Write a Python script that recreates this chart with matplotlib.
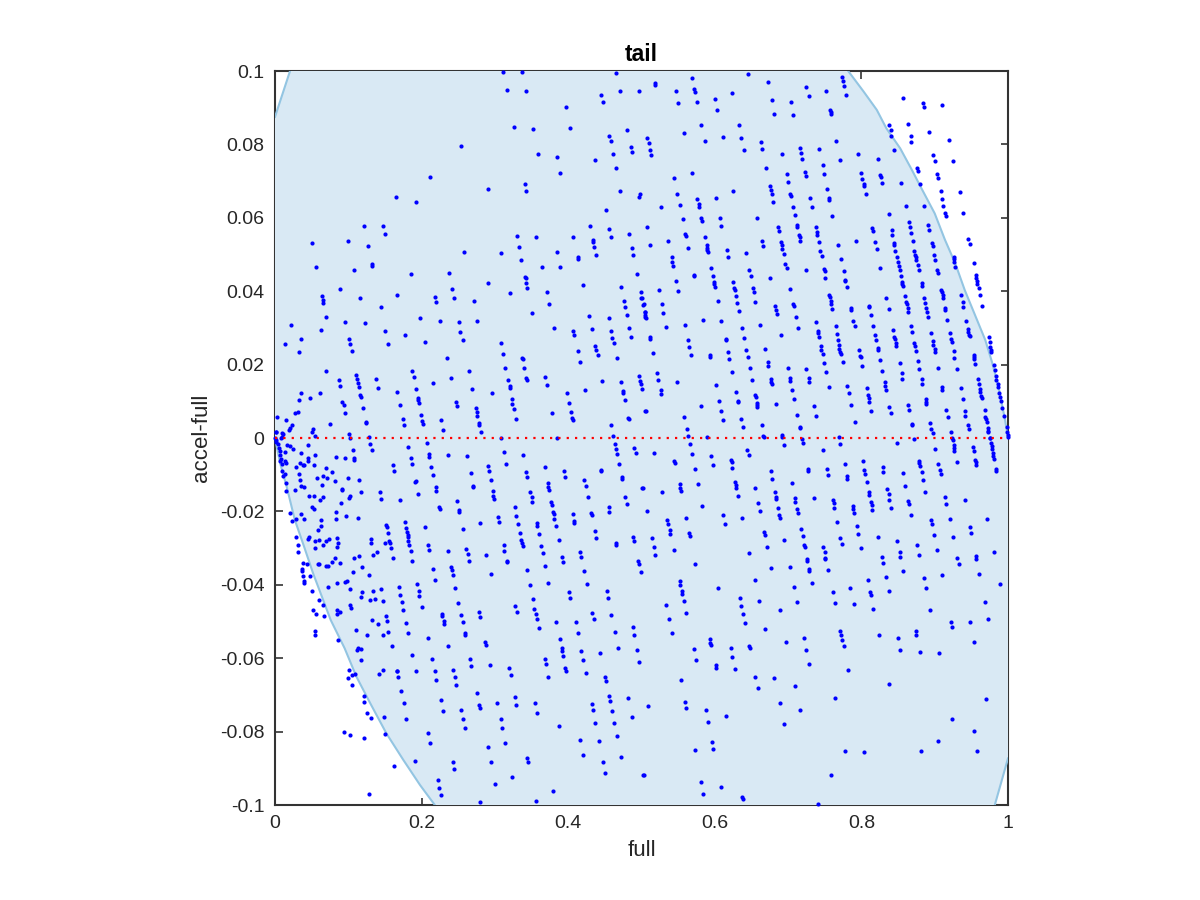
# scatter of full against accel-full, with the shaded region behind it
import numpy as np
import matplotlib
matplotlib.use('Agg')
import matplotlib.pyplot as plt

plt.rcParams['font.family'] = ['Liberation Sans', 'DejaVu Sans']

# points, (full, accel-full), one list per quadrant
upper_left = [
(.311,.0998),(.337,.0997),(.465,.0995),(.316,.0949),(.342,.0945),(.470,.0946),(.496,.0946),(.445,.0935),(.447,.0916),(.397,.0902),
(.326,.0847),(.352,.0843),(.403,.0846),(.480,.0839),(.456,.0824),(.458,.0808),(.485,.0793),(.487,.0778),(.254,.0796),(.359,.0775),
(.385,.0765),(.461,.0773),(.437,.0758),(.465,.0737),(.389,.0722),(.211,.0712),(.341,.0693),(.343,.0674),(.291,.0678),(.471,.0674),
(.498,.0665),(.497,.0657),(.165,.0656),(.192,.0642),(.451,.0621),(.430,.0579),(.456,.0570),(.122,.0577),(.147,.0579),(.150,.0555),
(.483,.0557),(.330,.0550),(.356,.0547),(.407,.0548),(.459,.0548),(.050,.0531),(.100,.0537),(.127,.0523),(.434,.0540),(.434,.0535),
(.435,.0521),(.333,.0521),(.258,.0506),(.309,.0504),(.385,.0508),(.336,.0486),(.487,.0518),(.489,.0500),(.438,.0498),(.413,.0492),
(.413,.0488),(.132,.0475),(.132,.0470),(.056,.0466),(.108,.0457),(.186,.0448),(.238,.0449),(.364,.0466),(.389,.0467),(.494,.0448),
(.341,.0440),(.342,.0435),(.343,.0423),(.291,.0422),(.420,.0417),(.472,.0411),(.344,.0409),(.088,.0406),(.242,.0405),(.371,.0398),
(.499,.0398),(.320,.0395),(.166,.0390),(.064,.0388),(.218,.0383),(.116,.0381),(.244,.0382),(.065,.0375),(.066,.0368),(.220,.0371),
(.271,.0373),(.501,.0381),(.502,.0363),(.374,.0365),(.476,.0373),(.477,.0356),(.144,.0358),(.480,.0335),(.505,.0344),(.505,.0330),
(.351,.0341),(.429,.0333),(.070,.0330),(.198,.0326),(.455,.0327),(.096,.0316),(.225,.0318),(.251,.0315),(.276,.0320),(.022,.0307),
(.123,.0312),(.063,.0294),(.150,.0292),(.253,.0289),(.381,.0300),(.407,.0292),(.433,.0296),(.459,.0291),(.483,.0301),(.408,.0281),
(.177,.0280),(.486,.0275),(.460,.0272),(.035,.0270),(.101,.0269),(.256,.0267),(.462,.0260),(.014,.0257),(.102,.0257),(.154,.0257),
(.205,.0262),(.308,.0259),(.437,.0250),(.438,.0240),(.413,.0237),(.033,.0233),(.105,.0237),(.311,.0228),(.440,.0226),(.235,.0217),
(.337,.0219),(.338,.0215),(.466,.0217),(.416,.0206),(.314,.0192),(.340,.0192),(.070,.0183),(.187,.0183),(.264,.0182),(.111,.0172),
(.497,.0168),(.189,.0165),(.240,.0164),(.369,.0165),(.343,.0164),(.112,.0161),(.138,.0161),(.344,.0158),(.087,.0157),(.318,.0158),
(.498,.0155),(.446,.0154),(.472,.0153),(.216,.0149),(.113,.0149),(.499,.0147),(.371,.0145),(.088,.0143),(.320,.0143),(.114,.0139),
(.140,.0136),(.320,.0136),(.192,.0134),(.269,.0133),(.500,.0134),(.423,.0130),(.475,.0129),(.035,.0123),(.061,.0123),(.167,.0124),
(.296,.0123),(.399,.0123),(.475,.0122),(.116,.0117),(.117,.0112),(.048,.0110),(.195,.0109),(.323,.0107),(.477,.0104),(.033,.0103),
(.195,.0104),(.196,.0095),(.092,.0099),(.247,.0097),(.324,.0094),(.401,.0095),(.094,.0090),(.171,.0090),(.248,.0087),(.120,.0083),
(.274,.0082),(.326,.0078),(.096,.0067),(.032,.0070),(.027,.0067),(.275,.0070),(.276,.0061),(.199,.0064),(.378,.0068),(.404,.0071),
(.505,.0074),(.003,.0057),(.174,.0053),(.226,.0050),(.329,.0052),(.405,.0054),(.406,.0049),(.015,.0049),(.482,.0055),(.483,.0052),
(.124,.0044),(.124,.0042),(.201,.0046),(.278,.0042),(.278,.0036),(.075,.0038),(.202,.0038),(.176,.0035),(.023,.0035),(.021,.0028),
(.459,.0035),(.019,.0021),(.052,.0024),(.051,.0017),(.229,.0021),(.281,.0017),(.001,.0016),(.101,.0011),(.054,.0006),(.461,.0006),
(.128,.0003),(.103,.0000),(.308,.0000),(.385,.0000),
]

upper_right = [
(.569,.0981),(.645,.0993),(.519,.0966),(.519,.0963),(.672,.0971),(.774,.0985),(.775,.0974),(.776,.0960),(.779,.0935),(.547,.0945),
(.572,.0950),(.573,.0944),(.624,.0939),(.725,.0957),(.728,.0931),(.752,.0945),(.600,.0924),(.678,.0920),(.704,.0916),(.550,.0912),
(.576,.0915),(.857,.0926),(.884,.0914),(.885,.0903),(.910,.0907),(.603,.0893),(.757,.0895),(.758,.0889),(.758,.0883),(.681,.0882),
(.707,.0879),(.581,.0853),(.633,.0854),(.838,.0853),(.864,.0855),(.840,.0840),(.558,.0832),(.841,.0824),(.867,.0824),(.892,.0834),
(.508,.0818),(.611,.0819),(.636,.0818),(.586,.0810),(.868,.0807),(.920,.0811),(.510,.0803),(.766,.0810),(.663,.0807),(.665,.0787),
(.640,.0784),(.512,.0784),(.716,.0790),(.742,.0788),(.845,.0786),(.513,.0771),(.692,.0774),(.718,.0776),(.795,.0775),(.898,.0771),
(.719,.0761),(.771,.0757),(.822,.0761),(.900,.0755),(.925,.0755),(.747,.0744),(.670,.0736),(.876,.0736),(.877,.0727),(.569,.0723),
(.698,.0719),(.723,.0724),(.724,.0714),(.749,.0719),(.800,.0722),(.826,.0717),(.827,.0712),(.903,.0720),(.904,.0708),(.545,.0708),
(.801,.0706),(.700,.0698),(.828,.0695),(.854,.0696),(.803,.0693),(.880,.0693),(.803,.0686),(.675,.0688),(.676,.0676),(.753,.0679),
(.625,.0673),(.678,.0664),(.549,.0666),(.908,.0673),(.934,.0669),(.806,.0664),(.703,.0665),(.704,.0660),(.576,.0650),(.602,.0654),
(.730,.0653),(.756,.0654),(.756,.0648),(.910,.0650),(.680,.0643),(.578,.0638),(.552,.0636),(.578,.0630),(.527,.0630),(.707,.0630),
(.732,.0629),(.912,.0633),(.861,.0632),(.886,.0632),(.914,.0614),(.837,.0611),(.939,.0614),(.709,.0607),(.915,.0604),(.607,.0599),
(.658,.0599),(.760,.0605),(.556,.0597),(.581,.0599),(.582,.0590),(.865,.0589),(.712,.0580),(.712,.0576),(.507,.0576),(.686,.0576),
(.609,.0579),(.866,.0576),(.891,.0581),(.738,.0574),(.815,.0572),(.816,.0564),(.688,.0564),(.842,.0566),(.892,.0568),(.867,.0559),
(.842,.0553),(.560,.0557),(.739,.0562),(.740,.0554),(.561,.0551),(.587,.0547),(.715,.0553),(.716,.0547),(.946,.0542),(.716,.0537),
(.536,.0536),(.742,.0535),(.793,.0538),(.870,.0538),(.819,.0535),(.845,.0531),(.664,.0537),(.690,.0534),(.948,.0529),(.512,.0526),
(.768,.0527),(.589,.0526),(.845,.0525),(.896,.0531),(.666,.0523),(.897,.0524),(.691,.0526),(.589,.0519),(.564,.0518),(.821,.0515),
(.692,.0514),(.590,.0512),(.616,.0511),(.846,.0510),(.744,.0509),(.872,.0510),(.591,.0506),(.642,.0504),(.694,.0502),(.899,.0500),
(.873,.0498),(.746,.0496),(.926,.0494),(.541,.0492),(.849,.0494),(.618,.0492),(.772,.0489),(.874,.0492),(.926,.0488),(.541,.0480),
(.850,.0480),(.901,.0485),(.875,.0485),(.927,.0479),(.953,.0476),(.543,.0469),(.696,.0473),(.851,.0469),(.877,.0471),(.928,.0467),
(.595,.0462),(.698,.0463),(.724,.0459),(.749,.0461),(.826,.0464),(.647,.0457),(.852,.0458),(.878,.0457),(.903,.0458),(.776,.0456),
(.750,.0454),(.904,.0449),(.571,.0445),(.572,.0441),(.597,.0441),(.649,.0441),(.854,.0442),(.957,.0443),(.751,.0436),(.675,.0435),
(.957,.0435),(.778,.0431),(.778,.0429),(.599,.0426),(.856,.0426),(.547,.0427),(.625,.0425),(.958,.0427),(.882,.0422),(.599,.0420),
(.856,.0420),(.958,.0420),(.600,.0412),(.857,.0414),(.882,.0414),(.626,.0410),(.652,.0409),(.780,.0411),(.960,.0410),(.627,.0403),
(.524,.0403),(.550,.0400),(.703,.0406),(.909,.0403),(.653,.0397),(.910,.0397),(.962,.0391),(.936,.0390),(.911,.0390),(.756,.0391),
(.629,.0387),(.859,.0387),(.886,.0382),(.911,.0381),(.499,.0381),(.757,.0383),(.834,.0381),(.604,.0374),(.758,.0374),(.630,.0369),
(.655,.0370),(.861,.0371),(.862,.0366),(.938,.0370),(.887,.0368),(.528,.0365),(.707,.0365),(.708,.0360),(.759,.0365),(.682,.0361),
(.811,.0361),(.811,.0356),(.938,.0357),(.965,.0360),(.786,.0355),(.786,.0350),(.838,.0351),(.863,.0353),(.888,.0353),(.503,.0364),
(.505,.0344),(.684,.0348),(.685,.0339),(.760,.0351),(.889,.0342),(.914,.0353),(.914,.0349),(.633,.0345),(.863,.0344),(.530,.0341),
(.813,.0335),(.505,.0335),(.891,.0331),(.711,.0330),(.506,.0326),(.584,.0322),(.609,.0320),(.789,.0318),(.917,.0321),(.943,.0318),
(.738,.0316),(.559,.0308),(.534,.0303),(.662,.0308),(.765,.0306),(.791,.0306),(.816,.0304),(.867,.0306),(.637,.0301),(.714,.0301),
(.945,.0298),(.843,.0295),(.741,.0291),(.869,.0289),(.741,.0285),(.946,.0289),(.690,.0281),(.767,.0283),(.895,.0286),(.921,.0285),
(.947,.0282),(.819,.0280),(.948,.0277),(.742,.0274),(.845,.0276),(.511,.0274),(.512,.0271),(.640,.0273),(.615,.0271),(.615,.0267),
(.846,.0269),(.563,.0268),(.768,.0267),(.974,.0275),(.820,.0268),(.897,.0265),(.922,.0269),(.923,.0262),(.872,.0260),(.975,.0261),
(.770,.0253),(.847,.0258),(.873,.0252),(.847,.0250),(.898,.0253),(.565,.0248),(.745,.0251),(.976,.0247),(.797,.0241),(.770,.0243),
(.643,.0241),(.668,.0243),(.822,.0245),(.823,.0239),(.745,.0239),(.618,.0234),(.926,.0237),(.900,.0242),(.900,.0233),(.977,.0240),
(.977,.0233),(.771,.0235),(.874,.0238),(.516,.0231),(.772,.0229),(.747,.0228),(.593,.0227),(.594,.0222),(.568,.0225),(.645,.0222),
(.798,.0224),(.799,.0220),(.953,.0226),(.954,.0220),(.927,.0218),(.620,.0214),(.826,.0212),(.877,.0210),(.954,.0215),(.672,.0206),
(.749,.0205),(.775,.0207),(.852,.0205),(.955,.0201),(.981,.0199),(.673,.0195),(.801,.0195),(.648,.0192),(.700,.0192),(.879,.0188),
(.905,.0190),(.931,.0189),(.725,.0187),(.982,.0185),(.828,.0183),(.623,.0181),(.521,.0177),(.752,.0180),(.855,.0178),(.983,.0169),
(.728,.0164),(.651,.0158),(.523,.0158),(.702,.0163),(.677,.0160),(.856,.0161),(.959,.0162),(.984,.0158),(.882,.0160),(.677,.0153),
(.703,.0154),(.832,.0153),(.549,.0153),(.729,.0152),(.883,.0148),(.960,.0147),(.678,.0147),(.986,.0147),(.601,.0144),(.781,.0143),
(.832,.0142),(.987,.0139),(.756,.0140),(.807,.0137),(.910,.0138),(.910,.0131),(.936,.0136),(.705,.0132),(.526,.0131),(.833,.0130),
(.962,.0133),(.629,.0126),(.527,.0121),(.783,.0122),(.988,.0122),(.962,.0124),(.963,.0115),(.989,.0113),(.655,.0116),(.809,.0116),
(.656,.0111),(.810,.0109),(.708,.0107),(.939,.0106),(.888,.0105),(.964,.0109),(.606,.0100),(.631,.0102),(.632,.0098),(.888,.0097),
(.811,.0098),(.657,.0096),(.990,.0102),(.683,.0094),(.888,.0093),(.658,.0089),(.581,.0087),(.786,.0089),(.863,.0091),(.735,.0087),
(.838,.0084),(.658,.0084),(.992,.0082),(.968,.0076),(.506,.0073),(.609,.0074),(.813,.0074),(.865,.0076),(.916,.0076),(.942,.0073),
(.840,.0069),(.712,.0064),(.738,.0061),(.558,.0057),(.942,.0061),(.918,.0058),(.969,.0058),(.994,.0060),(.611,.0050),(.636,.0051),
(.970,.0051),(.791,.0044),(.971,.0043),(.664,.0035),(.869,.0038),(.869,.0035),(.894,.0041),(.946,.0036),(.716,.0031),(.716,.0028),
(.998,.0030),(.639,.0031),(.562,.0025),(.895,.0025),(.947,.0025),(.973,.0028),(.973,.0020),(.897,.0014),(.922,.0015),(.973,.0015),
(.564,.0005),(.590,.0003),(.666,.0006),(.667,.0002),(.692,.0009),(.692,.0003),(.770,.0002),(.719,-.0002),(.872,-.0002),(.924,-.0001),
(.975,.0000),(.999,.0015),(1.0,.0009),(1.0,.0002),
]

origin_cluster = [
(.000,-.0001),(.001,-.0005),(.002,-.0010),(.004,-.0016),(.005,-.0028),(.007,-.0035),(.007,-.0046),(.008,-.0058),(.007,-.0064),(.009,-.0072),
(.013,-.0064),(.015,-.0068),(.009,-.0090),(.011,-.0104),(.013,-.0099),(.015,-.0123),(.015,-.0145),(.001,.0016),(.009,.0013),(.011,.0011),
(.010,.0002),(.008,-.0001),(.017,-.0020),(.021,-.0022),(.024,-.0031),(.014,-.0038),
]

lower_left = [
(.036,-.0042),(.045,-.0018),(.054,-.0047),(.045,-.0055),(.045,-.0063),(.034,-.0067),(.038,-.0073),(.040,-.0073),(.053,-.0074),(.028,-.0079),
(.033,-.0099),(.034,-.0114),(.036,-.0132),(.040,-.0133),(.027,-.0141),(.083,-.0052),(.095,-.0054),(.106,-.0033),(.108,-.0054),(.108,-.0060),
(.130,-.0017),(.132,-.0034),(.069,-.0082),(.078,-.0094),(.065,-.0104),(.071,-.0109),(.057,-.0109),(.082,-.0118),(.064,-.0128),(.100,-.0109),
(.115,-.0115),(.092,-.0138),(.091,-.0142),(.118,-.0146),(.046,-.0158),(.053,-.0157),(.066,-.0161),(.061,-.0168),(.102,-.0159),(.101,-.0163),
(.090,-.0177),(.051,-.0187),(.053,-.0194),(.083,-.0201),(.020,-.0204),(.035,-.0207),(.097,-.0213),(.113,-.0217),(.083,-.0220),(.040,-.0222),
(.063,-.0224),(.028,-.0222),(.023,-.0227),(.063,-.0239),(.058,-.0251),(.028,-.0271),(.045,-.0274),(.047,-.0271),(.085,-.0273),(.060,-.0277),
(.054,-.0282),(.070,-.0280),(.074,-.0276),(.086,-.0287),(.066,-.0291),(.085,-.0297),(.031,-.0292),(.055,-.0301),(.031,-.0311),(.108,-.0326),
(.114,-.0322),(.082,-.0328),(.078,-.0337),(.088,-.0340),(.038,-.0341),(.043,-.0342),(.058,-.0344),(.060,-.0344),(.069,-.0348),(.072,-.0349),
(.119,-.0351),(.037,-.0358),(.037,-.0363),(.106,-.0364),(.038,-.0376),(.048,-.0375),(.128,-.0373),(.039,-.0390),(.040,-.0396),(.096,-.0392),
(.098,-.0391),(.084,-.0396),(.072,-.0406),(.103,-.0411),(.051,-.0418),(.119,-.0419),(.134,-.0416),(.144,-.0411),(.117,-.0433),(.060,-.0442),
(.129,-.0442),(.136,-.0440),(.147,-.0444),(.066,-.0454),(.102,-.0454),(.104,-.0463),(.052,-.0469),(.084,-.0469),(.089,-.0475),(.084,-.0480),
(.056,-.0479),(.067,-.0484),(.151,-.0484),(.132,-.0497),(.153,-.0498),(.141,-.0508),(.054,-.0525),(.111,-.0523),(.154,-.0528),(.054,-.0538),
(.126,-.0537),(.147,-.0537),(.086,-.0550),(.160,-.0566),(.113,-.0572),(.118,-.0575),(.112,-.0578),(.118,-.0604),(.101,-.0632),(.147,-.0633),
(.166,-.0635),(.167,-.0636),(.109,-.0643),(.105,-.0646),(.142,-.0643),(.100,-.0654),(.168,-.0652),(.105,-.0672),(.172,-.0689),(.122,-.0702),
(.121,-.0720),(.176,-.0723),(.126,-.0749),(.131,-.0764),(.149,-.0760),(.179,-.0765),(.094,-.0800),(.103,-.0810),(.150,-.0807),(.122,-.0818),
(.191,-.0879),(.163,-.0894),(.128,-.0971),(.182,-.0024),(.207,-.0014),(.210,-.0044),(.210,-.0051),(.185,-.0055),(.187,-.0070),(.236,-.0045),
(.262,-.0049),(.161,-.0073),(.163,-.0089),(.213,-.0078),(.216,-.0101),(.192,-.0116),(.191,-.0119),(.195,-.0153),(.219,-.0134),(.220,-.0144),
(.143,-.0147),(.145,-.0166),(.171,-.0170),(.267,-.0096),(.270,-.0132),(.270,-.0134),(.248,-.0173),(.224,-.0187),(.225,-.0194),(.251,-.0197),
(.251,-.0202),(.290,-.0075),(.292,-.0090),(.294,-.0115),(.312,-.0039),(.315,-.0072),(.339,-.0047),(.297,-.0145),(.298,-.0158),(.299,-.0166),
(.343,-.0094),(.344,-.0107),(.368,-.0078),(.394,-.0090),(.396,-.0106),(.372,-.0123),(.373,-.0133),(.374,-.0143),(.348,-.0148),(.350,-.0160),
(.351,-.0175),(.327,-.0188),(.377,-.0175),(.378,-.0183),(.379,-.0201),(.380,-.0207),(.329,-.0212),(.304,-.0216),(.305,-.0228),(.280,-.0231),
(.331,-.0233),(.357,-.0232),(.357,-.0239),(.381,-.0221),(.384,-.0240),(.256,-.0248),(.204,-.0242),(.152,-.0237),(.153,-.0242),(.154,-.0258),
(.177,-.0229),(.179,-.0246),(.180,-.0255),(.181,-.0264),(.181,-.0271),(.182,-.0282),(.183,-.0291),(.131,-.0275),(.131,-.0286),(.156,-.0280),
(.157,-.0287),(.150,-.0287),(.158,-.0300),(.185,-.0308),(.209,-.0291),(.210,-.0305),(.134,-.0318),(.139,-.0311),(.161,-.0327),(.187,-.0335),
(.334,-.0259),(.360,-.0262),(.336,-.0278),(.337,-.0285),(.338,-.0294),(.312,-.0291),(.313,-.0307),(.363,-.0294),(.365,-.0313),(.387,-.0277),
(.261,-.0302),(.236,-.0307),(.263,-.0317),(.288,-.0319),(.265,-.0335),(.316,-.0334),(.316,-.0337),(.369,-.0349),(.392,-.0323),(.393,-.0339),
(.416,-.0311),(.417,-.0323),(.240,-.0351),(.242,-.0360),(.216,-.0358),(.243,-.0373),(.344,-.0361),(.294,-.0370),(.422,-.0363),(.218,-.0388),
(.348,-.0401),(.373,-.0395),(.425,-.0397),(.169,-.0406),(.194,-.0399),(.196,-.0418),(.246,-.0408),(.171,-.0428),(.197,-.0430),(.401,-.0419),
(.403,-.0436),(.352,-.0440),(.173,-.0447),(.250,-.0449),(.200,-.0460),(.328,-.0458),(.354,-.0465),(.175,-.0469),(.330,-.0473),(.228,-.0479),
(.228,-.0485),(.254,-.0482),(.278,-.0475),(.280,-.0487),(.356,-.0479),(.358,-.0492),(.230,-.0498),(.231,-.0507),(.256,-.0502),(.179,-.0504),
(.182,-.0530),(.259,-.0532),(.259,-.0538),(.360,-.0517),(.384,-.0501),(.410,-.0500),(.413,-.0532),(.209,-.0544),(.389,-.0548),(.287,-.0557),
(.288,-.0565),(.236,-.0566),(.391,-.0572),(.392,-.0581),(.418,-.0581),(.393,-.0593),(.187,-.0590),(.214,-.0603),(.266,-.0603),(.369,-.0601),
(.370,-.0616),(.420,-.0605),(.268,-.0622),(.293,-.0618),(.319,-.0626),(.322,-.0645),(.396,-.0627),(.397,-.0636),(.424,-.0640),(.373,-.0652),
(.192,-.0636),(.218,-.0635),(.243,-.0631),(.245,-.0651),(.220,-.0660),(.247,-.0672),(.450,-.0650),(.452,-.0663),(.275,-.0696),(.327,-.0705),
(.455,-.0704),(.457,-.0716),(.226,-.0715),(.278,-.0728),(.279,-.0735),(.303,-.0722),(.329,-.0727),(.355,-.0721),(.432,-.0724),(.434,-.0741),
(.229,-.0744),(.254,-.0740),(.357,-.0750),(.460,-.0744),(.257,-.0766),(.308,-.0767),(.437,-.0777),(.463,-.0776),(.259,-.0791),(.310,-.0790),
(.387,-.0786),(.209,-.0804),(.466,-.0811),(.212,-.0830),(.314,-.0830),(.416,-.0824),(.442,-.0826),(.290,-.0843),(.420,-.0865),(.344,-.0871),
(.345,-.0883),(.243,-.0883),(.294,-.0883),(.448,-.0884),(.472,-.0868),(.244,-.0903),(.450,-.0912),(.502,-.0917),(.324,-.0924),(.222,-.0933),
(.300,-.0942),(.224,-.0954),(.379,-.0962),(.226,-.0972),(.279,-.0992),(.356,-.0990),(.464,-.0016),(.465,-.0031),(.466,-.0044),(.469,-.0070),
(.490,-.0028),(.492,-.0042),(.445,-.0087),(.445,-.0091),(.473,-.0106),(.473,-.0113),(.422,-.0115),(.424,-.0131),(.501,-.0135),(.427,-.0161),
(.478,-.0162),(.480,-.0180),(.456,-.0187),(.456,-.0202),(.406,-.0207),(.431,-.0204),(.432,-.0211),(.408,-.0226),(.408,-.0231),(.436,-.0254),
(.438,-.0272),(.489,-.0269),(.490,-.0280),(.465,-.0285),(.465,-.0291),(.495,-.0335),(.496,-.0343),(.499,-.0366),(.453,-.0417),(.454,-.0436),
(.433,-.0477),(.435,-.0494),(.459,-.0483),(.464,-.0528),(.488,-.0516),(.490,-.0538),(.468,-.0572),(.494,-.0577),(.444,-.0585),(.497,-.0610),
(.482,-.0709),(.487,-.0759),
]

lower_right = [
(.517,-.0040),(.747,-.0033),(.644,-.0032),(.646,-.0045),(.695,-.0018),(.720,-.0013),(.771,-.0015),(.848,-.0014),(.566,-.0016),(.569,-.0043),
(.595,-.0048),(.545,-.0064),(.546,-.0069),(.598,-.0074),(.622,-.0060),(.623,-.0066),(.624,-.0082),(.573,-.0085),(.676,-.0091),(.678,-.0111),
(.727,-.0084),(.727,-.0090),(.753,-.0084),(.755,-.0101),(.777,-.0070),(.802,-.0064),(.804,-.0088),(.805,-.0097),(.829,-.0080),(.830,-.0092),
(.781,-.0104),(.781,-.0112),(.857,-.0096),(.879,-.0062),(.879,-.0069),(.880,-.0076),(.882,-.0094),(.884,-.0114),(.905,-.0072),(.907,-.0087),
(.908,-.0099),(.901,-.0031),(.925,-.0005),(.926,-.0018),(.927,-.0026),(.927,-.0035),(.952,-.0025),(.953,-.0035),(.930,-.0065),(.955,-.0060),
(.956,-.0066),(.957,-.0073),(.976,.0000),(.977,-.0013),(.978,-.0022),(.978,-.0031),(.980,-.0042),(.980,-.0049),(.981,-.0056),(.983,-.0084),
(.984,-.0089),(.552,-.0126),(.553,-.0135),(.554,-.0145),(.577,-.0125),(.502,-.0136),(.528,-.0148),(.628,-.0119),(.629,-.0128),(.629,-.0136),
(.632,-.0157),(.655,-.0136),(.705,-.0123),(.807,-.0121),(.860,-.0130),(.887,-.0146),(.835,-.0138),(.837,-.0153),(.682,-.0147),(.683,-.0160),
(.684,-.0166),(.709,-.0163),(.710,-.0174),(.735,-.0163),(.659,-.0176),(.583,-.0186),(.810,-.0146),(.811,-.0155),(.813,-.0174),(.814,-.0183),
(.815,-.0197),(.838,-.0170),(.841,-.0192),(.864,-.0171),(.865,-.0179),(.868,-.0210),(.761,-.0170),(.762,-.0176),(.763,-.0191),(.788,-.0184),
(.789,-.0194),(.790,-.0203),(.914,-.0161),(.916,-.0181),(.941,-.0170),(.508,-.0198),(.661,-.0198),(.686,-.0192),(.712,-.0194),(.713,-.0203),
(.611,-.0210),(.561,-.0217),(.637,-.0217),(.688,-.0210),(.689,-.0218),(.535,-.0223),(.536,-.0234),(.614,-.0234),(.767,-.0229),(.921,-.0222),
(.895,-.0224),(.896,-.0235),(.972,-.0220),(.794,-.0240),(.948,-.0243),(.950,-.0260),(.539,-.0252),(.539,-.0262),(.565,-.0258),(.566,-.0268),
(.667,-.0256),(.668,-.0265),(.718,-.0247),(.720,-.0268),(.796,-.0262),(.823,-.0271),(.899,-.0263),(.925,-.0271),(.515,-.0273),(.695,-.0278),
(.771,-.0273),(.773,-.0288),(.849,-.0280),(.517,-.0297),(.671,-.0298),(.722,-.0291),(.723,-.0298),(.748,-.0298),(.800,-.0299),(.876,-.0292),
(.903,-.0305),(.544,-.0306),(.750,-.0311),(.519,-.0318),(.647,-.0314),(.852,-.0311),(.853,-.0323),(.879,-.0318),(.981,-.0311),(.956,-.0322),
(.957,-.0331),(.931,-.0326),(.933,-.0343),(.828,-.0324),(.830,-.0341),(.751,-.0326),(.751,-.0331),(.726,-.0329),(.726,-.0334),(.573,-.0342),
(.677,-.0353),(.702,-.0351),(.729,-.0356),(.729,-.0362),(.755,-.0359),(.857,-.0362),(.961,-.0370),(.910,-.0374),(.885,-.0381),(.833,-.0379),
(.809,-.0387),(.655,-.0387),(.552,-.0389),(.553,-.0400),(.732,-.0394),(.708,-.0405),(.605,-.0409),(.555,-.0418),(.555,-.0425),(.785,-.0408),
(.888,-.0410),(.989,-.0398),(.761,-.0419),(.812,-.0420),(.813,-.0429),(.837,-.0417),(.634,-.0436),(.558,-.0445),(.660,-.0444),(.712,-.0446),
(.764,-.0450),(.790,-.0452),(.533,-.0454),(.636,-.0457),(.968,-.0446),(.816,-.0465),(.689,-.0468),(.894,-.0469),(.561,-.0477),(.639,-.0479),
(.537,-.0493),(.973,-.0493),(.948,-.0500),(.922,-.0502),(.641,-.0505),(.924,-.0514),(.668,-.0520),(.771,-.0527),(.874,-.0525),(.541,-.0532),
(.772,-.0537),(.824,-.0537),(.875,-.0537),(.722,-.0544),(.850,-.0544),(.594,-.0548),(.774,-.0551),(.697,-.0556),(.954,-.0557),(.594,-.0559),
(.595,-.0565),(.647,-.0567),(.648,-.0573),(.622,-.0572),(.571,-.0574),(.776,-.0568),(.725,-.0577),(.853,-.0577),(.880,-.0582),(.906,-.0585),
(.624,-.0597),(.574,-.0606),(.729,-.0617),(.601,-.0618),(.602,-.0628),(.628,-.0629),(.782,-.0633),(.655,-.0651),(.681,-.0654),(.554,-.0660),
(.659,-.0682),(.709,-.0675),(.837,-.0671),(.764,-.0709),(.970,-.0712),(.559,-.0719),(.689,-.0722),(.509,-.0731),(.561,-.0735),(.588,-.0741),
(.716,-.0742),(.615,-.0758),(.591,-.0774),(.924,-.0767),(.694,-.0779),(.953,-.0798),(.596,-.0827),(.904,-.0826),(.573,-.0850),(.598,-.0848),
(.778,-.0854),(.804,-.0856),(.881,-.0854),(.958,-.0852),(.503,-.0917),(.759,-.0919),(.581,-.0936),(.609,-.0950),(.584,-.0971),(.637,-.0977),
(.638,-.0984),(.741,-.0997),
]

# edges of the shaded region
left_top_x = [0, .0205]
left_top_y = [.0875, .1]
right_curve_x = [.782, .803, .821, .834, .853, .869, .882, .900, .914, .928, .941, .955, .969, .978, .987, .996, 1]
right_curve_y = [.1, .0944, .0894, .0844, .0789, .0730, .0680, .0612, .0540, .0476, .0403, .0335, .0267, .0208, .0140, .0049, 0]
right_bottom_x = [1, .982]
right_bottom_y = [-.0873, -.1]
left_curve_x = [.218, .198, .175, .152, .130, .111, .095, .076, .052, .039, .027, .016, .007, 0]
left_curve_y = [-.1, -.0946, -.0877, -.0805, -.0723, -.065, -.0573, -.0496, -.0369, -.0292, -.0223, -.0133, -.0069, 0]

x_ticks = [0, 0.2, 0.4, 0.6, 0.8, 1]
y_ticks = [-0.1, -0.08, -0.06, -0.04, -0.02, 0, 0.02, 0.04, 0.06, 0.08, 0.1]
x_labels = ['0', '0.2', '0.4', '0.6', '0.8', '1']
y_labels = ['-0.1', '-0.08', '-0.06', '-0.04', '-0.02', '0', '0.02', '0.04', '0.06', '0.08', '0.1']

pts = np.array(upper_left + upper_right + origin_cluster + lower_left + lower_right)
region_x = left_top_x + right_curve_x + right_bottom_x + left_curve_x
region_y = left_top_y + right_curve_y + right_bottom_y + left_curve_y

fig = plt.figure(figsize=(12, 9), dpi=100)
ax = fig.add_axes([275 / 1200, 1 - 805 / 900, 733 / 1200, 734 / 900])

# opaque fill over ticks and spines, the reference hides them the same way
ax.fill(region_x, region_y, facecolor='#D9E9F4', edgecolor='none', zorder=3)
edge_color = '#93C5E2'
for ex, ey in [(left_top_x, left_top_y), (right_curve_x, right_curve_y),
               (right_bottom_x, right_bottom_y), (left_curve_x, left_curve_y)]:
    ax.plot(ex, ey, color=edge_color, linewidth=1.5, zorder=3.5)
ax.plot(pts[:, 0], pts[:, 1], 'o', color=(0, 0, 1), markersize=3.0, markeredgewidth=0, zorder=4, clip_on=False)
ax.plot([0, 1], [0, 0], color='red', linestyle=(0, (1, 2.75)), linewidth=1.6, zorder=5)

ax.set_xlim(0, 1)
ax.set_ylim(-0.1, 0.1)
ax.set_xticks(x_ticks)
ax.set_xticklabels(x_labels)
ax.set_yticks(y_ticks)
ax.set_yticklabels(y_labels)
ax.tick_params(direction='in', length=5.4, width=1.2, color='#333333', labelcolor='#262626',
               labelsize=14, top=True, right=True)
ax.tick_params(axis='x', pad=7.5)
ax.tick_params(axis='y', pad=7.5)
for s in ax.spines.values():
    s.set_color('#333333')
    s.set_linewidth(1.5)

ax.set_xlabel('full', fontsize=16, color='#262626', labelpad=5.5)
ax.set_ylabel('accel-full', fontsize=16, color='#262626', labelpad=6)
ax.set_title('tail', fontsize=16.5, fontweight='bold', color='black', pad=7.5)

fig.savefig('out.png', dpi=100)
